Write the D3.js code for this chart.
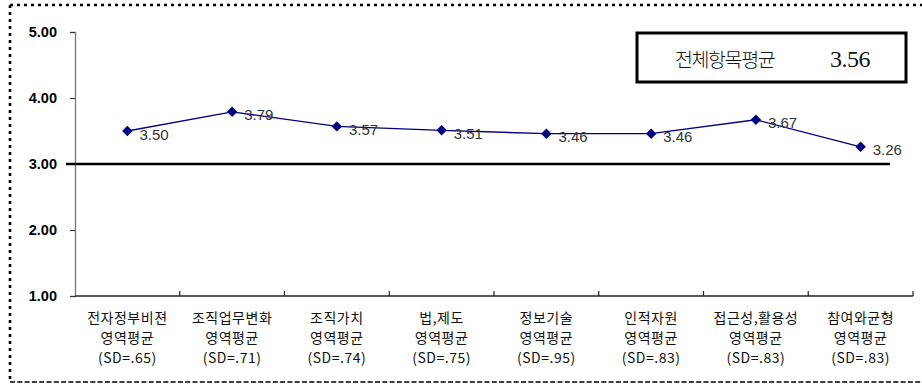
<!DOCTYPE html>
<html><head><meta charset="utf-8">
<script src="https://cdn.jsdelivr.net/npm/d3@7"></script>
<style>body{margin:0;background:#fff}svg{display:block}</style>
</head><body>
<script>
const categories = [
  ["전자정부비젼","영역평균","(SD=.65)"],
  ["조직업무변화","영역평균","(SD=.71)"],
  ["조직가치","영역평균","(SD=.74)"],
  ["법,제도","영역평균","(SD=.75)"],
  ["정보기술","영역평균","(SD=.95)"],
  ["인적자원","영역평균","(SD=.83)"],
  ["접근성,활용성","영역평균","(SD=.83)"],
  ["참여와균형","영역평균","(SD=.83)"]
];
const values = [3.50, 3.79, 3.57, 3.51, 3.46, 3.46, 3.67, 3.26];
const yTicks = [1, 2, 3, 4, 5];
const referenceValue = 3.00;
const overallLabel = "전체항목평균";
const overallMean = 3.56;

const W = 922, H = 384;
const svg = d3.select("body").append("svg").attr("width", W).attr("height", H);

// dotted outer frame
const frame = svg.append("g").attr("stroke", "#000").attr("stroke-width", 2.6).attr("stroke-dasharray", "3,4").attr("fill", "none");
frame.append("line").attr("x1", 10).attr("y1", 5).attr("x2", W).attr("y2", 5);
frame.append("line").attr("x1", 10).attr("y1", 5).attr("x2", 10).attr("y2", 382);
frame.append("line").attr("x1", 10).attr("y1", 382).attr("x2", W).attr("y2", 382).attr("stroke-width", 1.6).attr("stroke-dasharray", "5,2.3");

const x0 = 75, x1 = 913, yTop = 32, yBot = 296;
const x = d3.scaleBand().domain(d3.range(categories.length)).range([x0, x1]);
const y = d3.scaleLinear().domain([1, 5]).range([yBot, yTop]);

// y axis
const yAxis = svg.append("g").attr("transform", `translate(${x0},0)`)
  .call(d3.axisLeft(y).tickValues(yTicks).tickFormat(d3.format(".2f")).tickSize(5).tickPadding(14));
yAxis.select(".domain").attr("stroke", "#777").attr("stroke-width", 1.3);
yAxis.selectAll(".tick line").attr("stroke", "#333");
yAxis.selectAll(".tick text").attr("font-family", "Arial, 'Liberation Sans', sans-serif")
  .attr("font-size", 14.5).attr("font-weight", "bold").attr("fill", "#000").attr("dy", "0.32em").attr("x", -18);

// x axis
const xAxis = svg.append("g").attr("transform", `translate(0,${yBot})`);
xAxis.append("line").attr("x1", x0).attr("x2", x1).attr("stroke", "#222").attr("stroke-width", 1.3);
const bounds = d3.range(categories.length + 1).map(i => i < categories.length ? x(i) : x(categories.length - 1) + x.bandwidth());
xAxis.selectAll("line.tk").data(bounds.slice(1)).join("line").attr("class", "tk")
  .attr("x1", d => d).attr("x2", d => d).attr("y1", 0).attr("y2", -5).attr("stroke", "#222").attr("stroke-width", 1.2);
const labels = xAxis.selectAll("text.cat").data(categories).join("text").attr("class", "cat")
  .attr("text-anchor", "middle").attr("font-family", "'Noto Sans CJK KR', sans-serif").attr("font-size", 14)
  .attr("letter-spacing", 0.5).attr("fill", "#111");
labels.each(function(d, i) {
  const t = d3.select(this);
  d.forEach((s, j) => t.append("tspan").attr("x", x(i) + x.bandwidth() / 2).attr("y", 27 + j * 20).text(s));
});

// reference line
svg.append("line").attr("x1", 66).attr("x2", 890).attr("y1", y(referenceValue)).attr("y2", y(referenceValue))
  .attr("stroke", "#000").attr("stroke-width", 2.6);

// series
const cx = i => x(i) + x.bandwidth() / 2;
svg.append("path").datum(values)
  .attr("d", d3.line().x((d, i) => cx(i)).y(d => y(d)))
  .attr("fill", "none").attr("stroke", "#000080").attr("stroke-width", 1.4);
svg.selectAll("path.mk").data(values).join("path").attr("class", "mk")
  .attr("d", d3.symbol(d3.symbolDiamond2, 70))
  .attr("transform", (d, i) => `translate(${cx(i)},${y(d)})`)
  .attr("fill", "#000080");
svg.selectAll("text.val").data(values).join("text").attr("class", "val")
  .attr("x", (d, i) => cx(i) + 12).attr("y", d => y(d) + 8.5)
  .attr("font-family", "Arial, 'Liberation Sans', sans-serif").attr("font-size", 15).attr("fill", "#333")
  .text(d => d.toFixed(2));

// overall mean box
svg.append("rect").attr("x", 637).attr("y", 33).attr("width", 269).attr("height", 49)
  .attr("fill", "#fff").attr("stroke", "#000").attr("stroke-width", 3);
svg.append("text").attr("x", 675).attr("y", 67)
  .attr("font-family", "'Noto Sans CJK KR', sans-serif").attr("font-weight", 300)
  .attr("font-size", 19.5).attr("letter-spacing", -1.4).attr("fill", "#111").text(overallLabel);
svg.append("text").attr("x", 830).attr("y", 67)
  .attr("font-family", "'Liberation Serif', 'Times New Roman', serif")
  .attr("font-size", 24).attr("letter-spacing", -0.5).attr("fill", "#111").text(overallMean.toFixed(2));
</script>
</body></html>
